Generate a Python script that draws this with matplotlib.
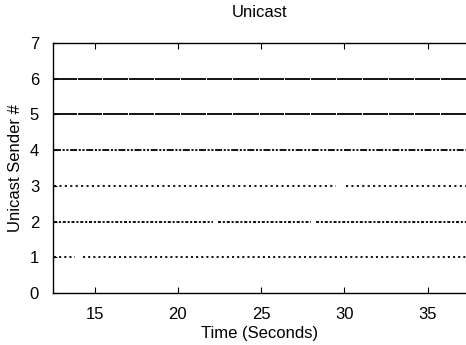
import numpy as np
import matplotlib
matplotlib.use('Agg')
import matplotlib.pyplot as plt

plt.rcParams['font.family'] = ['Liberation Sans', 'DejaVu Sans']
plt.rcParams['lines.scale_dashes'] = False

# sender rows (y) and the time spans (seconds) where packets were seen
senders = [1, 2, 3, 4, 5, 6]
x_start = 12.55
x_end = 37.3

# small gaps (start, end) in seconds
gaps_1 = [(13.8, 14.3)]
gaps_2 = [(22.1, 22.4), (24.4, 24.5), (28.0, 28.3)]
gaps_3 = [(29.5, 30.1)]
gaps_4 = []
gaps_56 = [(13.93, 13.99), (15.43, 15.49), (17.0, 17.06), (18.57, 18.63),
           (20.14, 20.2), (21.7, 21.76), (23.27, 23.33), (24.84, 24.9),
           (26.37, 26.43), (27.96, 28.02), (29.48, 29.54), (31.08, 31.14),
           (32.6, 32.66), (34.17, 34.23), (35.74, 35.8)]
row_gaps = [gaps_1, gaps_2, gaps_3, gaps_4, gaps_56, gaps_56]

# dash patterns (points) per row
row_styles = [
    (0, (1.5, 2.2)),
    (0, (2.2, 1.3, 1.5, 1.3)),
    (0, (1.5, 2.4)),
    (0, (5, 1.2, 1.5, 1.2, 1.5, 1.2)),
    'solid',
    'solid',
]


def spans(gaps):
    '''turn a list of gaps into drawn segments'''
    segs = []
    start = x_start
    for g0, g1 in gaps:
        segs.append((start, g0))
        start = g1
    segs.append((start, x_end))
    return segs


fig = plt.figure(figsize=(4.66, 3.45), dpi=100)
ax = fig.add_axes([53 / 466, 52 / 345, 1 - 53 / 466, 250 / 345])

for y, gaps, ls in zip(senders, row_gaps, row_styles):
    for s0, s1 in spans(gaps):
        ax.plot([s0, s1], [y, y], color='black', lw=1.3, linestyle=ls,
                solid_capstyle='butt', dash_capstyle='butt')

ax.set_xlim(12.5, 37.3)
ax.set_ylim(0, 7)
ax.set_xticks([15, 20, 25, 30, 35])
ax.set_yticks(range(0, 8))
ax.tick_params(direction='in', labelsize=12, top=True, length=4, width=0.8,
               pad=10)
ax.tick_params(axis='y', length=3, pad=10)
ax.spines['right'].set_visible(False)
for sp in ['left', 'top', 'bottom']:
    ax.spines[sp].set_linewidth(1.0)

ax.set_title('Unicast', fontsize=12, pad=19)
ax.set_xlabel('Time (Seconds)', fontsize=12, labelpad=3)
ax.set_ylabel('Unicast Sender #', fontsize=12, labelpad=5)

fig.savefig('out.png', dpi=100)
